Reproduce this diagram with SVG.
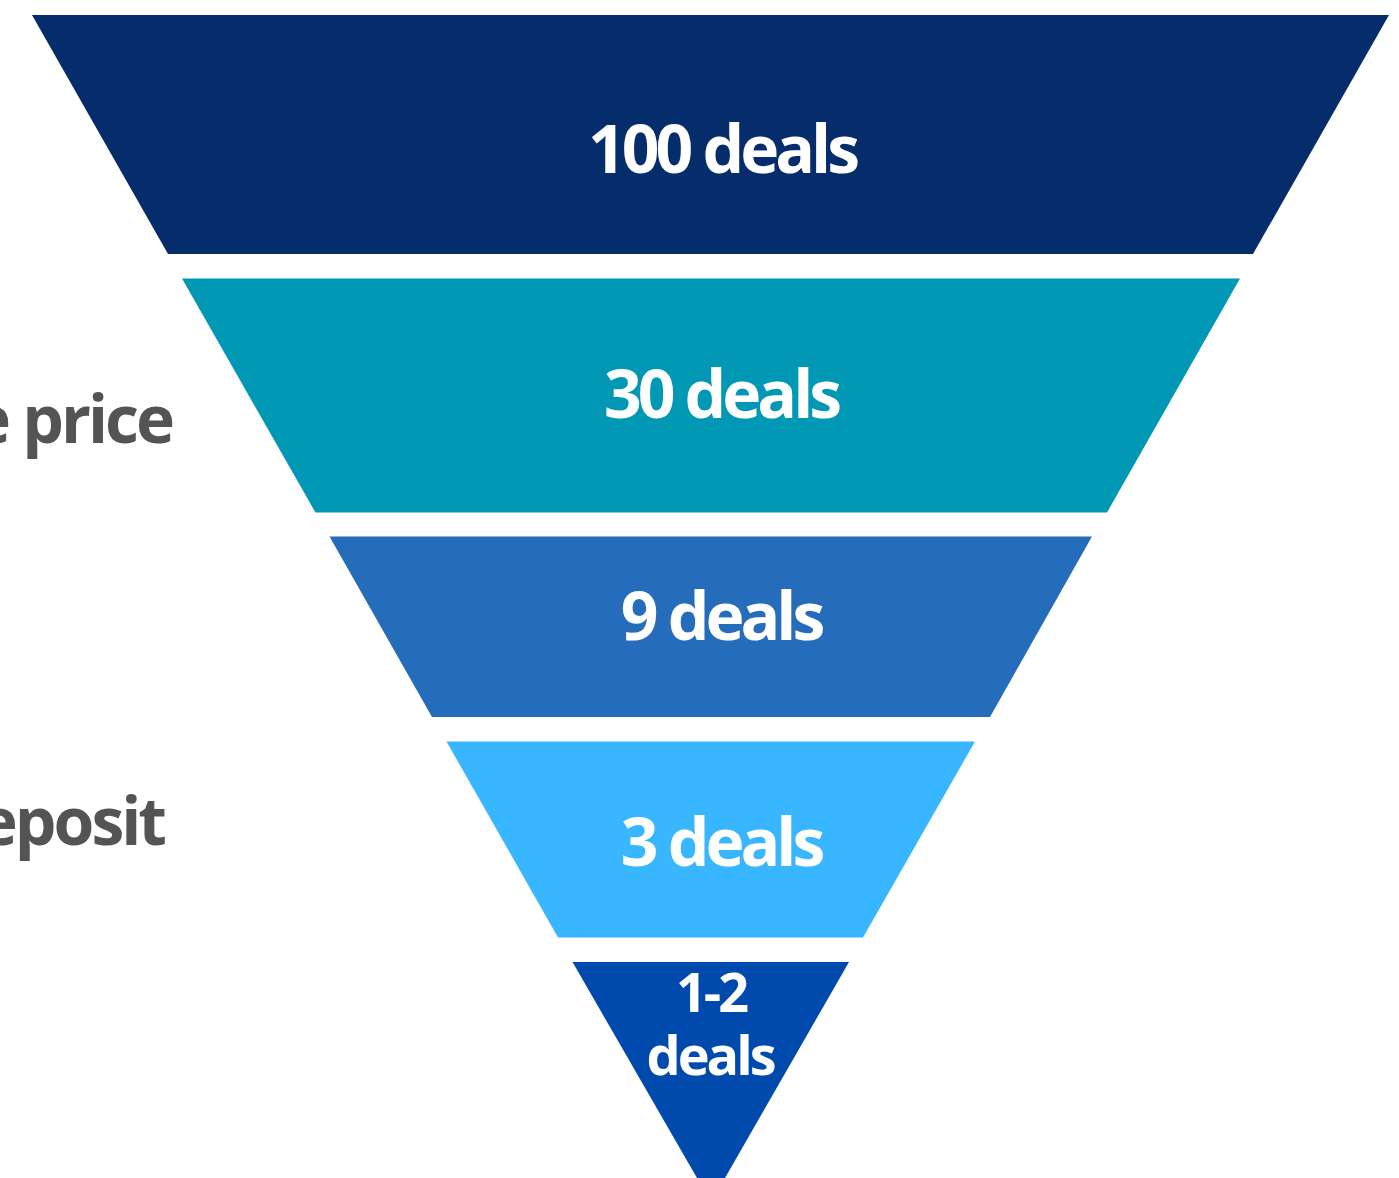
<svg xmlns="http://www.w3.org/2000/svg" width="1399" height="1178" viewBox="0 0 1399 1178">
<style>
.lbl{font-family:"Open Sans","Noto Sans","Liberation Sans",sans-serif;font-weight:700;fill:#ffffff;text-anchor:middle;letter-spacing:-4px}
.side{font-family:"Open Sans","Noto Sans","Liberation Sans",sans-serif;font-weight:700;fill:#545454;font-size:66px;letter-spacing:-3px;text-anchor:end}
</style>
<rect width="1399" height="1178" fill="#ffffff"/>
<text class="side" x="172" y="443">e price</text>
<text class="side" x="164" y="845">eposit</text>
<g id="stage1">
<polygon points="32,15 1389,15 1253,254 168,254" fill="#052d6b"/>
<text class="lbl" x="722" y="173" font-size="66">100 deals</text>
</g>
<g id="stage2">
<polygon points="182,278.5 1240,278.5 1107,512.5 315.5,512.5" fill="#0098b4"/>
<text class="lbl" x="721" y="418" font-size="66">30 deals</text>
</g>
<g id="stage3">
<polygon points="329.5,536.5 1092,536.5 990,717 432,717" fill="#256dbb"/>
<text class="lbl" x="721" y="640" font-size="66">9 deals</text>
</g>
<g id="stage4">
<polygon points="446.5,741.5 975,741.5 863,937.5 558,937.5" fill="#38b6ff"/>
<text class="lbl" x="721" y="866" font-size="66">3 deals</text>
</g>
<g id="stage5">
<polygon points="572.5,962 849,962 725,1178 697,1178" fill="#004aad"/>
<text class="lbl" x="711" y="1012" font-size="54" style="letter-spacing:-3px">1-2</text>
<text class="lbl" x="710" y="1075" font-size="54" style="letter-spacing:-3px">deals</text>
</g>
<g id="connectors"></g>
</svg>
